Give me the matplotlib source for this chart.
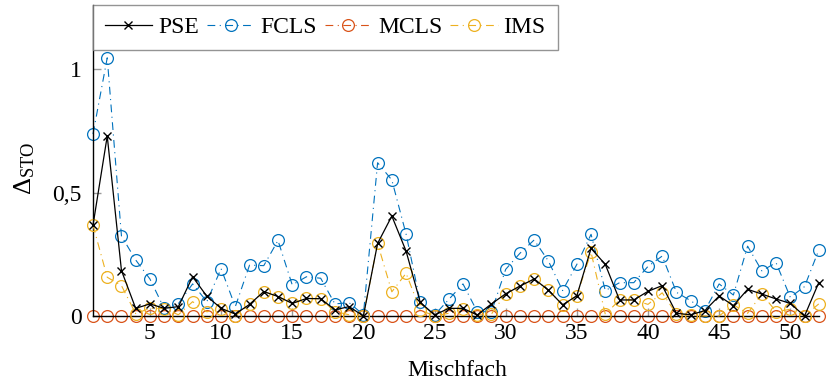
import matplotlib
matplotlib.use("Agg")
import matplotlib.pyplot as plt
from matplotlib.ticker import FuncFormatter

plt.rcParams["font.family"] = ["Liberation Serif", "DejaVu Serif"]
plt.rcParams["mathtext.fontset"] = "custom"
plt.rcParams["mathtext.rm"] = "Liberation Serif"
plt.rcParams["mathtext.it"] = "Liberation Serif:italic"

# Mischfach index 1..52
mischfach = list(range(1, 53))

pse = [0.368, 0.729, 0.184, 0.031, 0.049, 0.031, 0.038, 0.159, 0.080, 0.031,
       0.008, 0.047, 0.099, 0.079, 0.051, 0.071, 0.070, 0.025, 0.038, 0.000,
       0.294, 0.405, 0.263, 0.055, 0.004, 0.031, 0.031, 0.004, 0.049, 0.090,
       0.121, 0.150, 0.105, 0.045, 0.082, 0.274, 0.209, 0.065, 0.065, 0.100,
       0.123, 0.011, 0.005, 0.022, 0.081, 0.042, 0.108, 0.089, 0.069, 0.051,
       0.000, 0.135]

fcls = [0.737, 1.046, 0.324, 0.227, 0.150, 0.031, 0.050, 0.130, 0.058, 0.192,
        0.038, 0.206, 0.204, 0.306, 0.126, 0.159, 0.153, 0.049, 0.054, 0.005,
        0.621, 0.551, 0.332, 0.055, 0.004, 0.067, 0.130, 0.018, 0.017, 0.189,
        0.254, 0.308, 0.223, 0.103, 0.209, 0.331, 0.103, 0.135, 0.135, 0.201,
        0.243, 0.096, 0.062, 0.022, 0.130, 0.085, 0.283, 0.183, 0.216, 0.076,
        0.119, 0.267]

mcls = [0.0] * 52

ims = [0.368, 0.157, 0.123, 0.010, 0.031, 0.030, 0.005, 0.058, 0.017, 0.030,
       0.000, 0.047, 0.099, 0.079, 0.051, 0.071, 0.070, 0.018, 0.005, 0.000,
       0.294, 0.098, 0.173, 0.024, 0.000, 0.011, 0.030, 0.004, 0.008, 0.090,
       0.121, 0.150, 0.105, 0.045, 0.082, 0.258, 0.007, 0.065, 0.065, 0.047,
       0.094, 0.008, 0.004, 0.000, 0.000, 0.045, 0.011, 0.089, 0.018, 0.027,
       0.000, 0.049]

x_ticks = [5, 10, 15, 20, 25, 30, 35, 40, 45, 50]
y_ticks = [0, 0.5, 1]

c_fcls = "#0072BD"
c_mcls = "#D95319"
c_ims = "#EDB120"

W, H = 827, 384
fig = plt.figure(figsize=(W / 100, H / 100), dpi=100)
left, right, bottom, top = 93, 818.75, 316, 5
ax = fig.add_axes([left / W, (H - bottom) / H, (right - left) / W, (bottom - top) / H])

dashdot = (0, (7, 4, 1, 4))
lw = 0.8
ms = 8.5

ax.plot(mischfach, fcls, color=c_fcls, lw=lw, linestyle=dashdot, marker="o",
        ms=ms, mfc="none", mec=c_fcls, mew=0.9, clip_on=False, zorder=3, label="FCLS")
ax.plot(mischfach, mcls, color=c_mcls, lw=lw, linestyle=dashdot, marker="o",
        ms=ms, mfc="none", mec=c_mcls, mew=0.9, clip_on=False, zorder=3, label="MCLS")
ax.plot(mischfach, ims, color=c_ims, lw=lw, linestyle=dashdot, marker="o",
        ms=ms, mfc="none", mec=c_ims, mew=0.9, clip_on=False, zorder=4, label="IMS")
ax.plot(mischfach, pse, color="black", lw=0.9, linestyle="-", marker="x",
        ms=5.5, mew=1.0, clip_on=False, zorder=5, label="PSE")

ax.set_xlim(1, 52)
ax.set_ylim(0, 1.26)

for s in ["top", "right"]:
    ax.spines[s].set_visible(False)
ax.spines["left"].set_linewidth(1.0)
ax.spines["bottom"].set_linewidth(1.0)
ax.spines["bottom"].set_zorder(3.5)
ax.spines["left"].set_zorder(3.5)

ax.set_xticks(x_ticks)
ax.set_yticks(y_ticks)
ax.yaxis.set_major_formatter(FuncFormatter(
    lambda v, p: ("%g" % v).replace(".", ",")))
ax.tick_params(axis="both", direction="in", length=5.5, width=1.0,
               color="#9a9a9a", labelsize=17)
ax.tick_params(axis="x", pad=5)
ax.tick_params(axis="y", pad=8)

fig.text(457 / W, 1 - 370 / H, "Mischfach", ha="center", va="center", fontsize=17)
fig.text(25 / W, 1 - 168 / H, r"$\Delta_{\mathrm{STO}}$", ha="center", va="center",
         rotation=90, fontsize=19)

handles, labels = ax.get_legend_handles_labels()
order = [3, 0, 1, 2]
leg = ax.legend([handles[i] for i in order], [labels[i] for i in order],
                loc="upper left", bbox_to_anchor=(0, 1), borderaxespad=0,
                ncol=4, fontsize=17, frameon=True, fancybox=False,
                handlelength=2.0, handletextpad=0.25, columnspacing=0.35,
                borderpad=0.5)
leg.get_frame().set_edgecolor("#7a7a7a")
leg.get_frame().set_linewidth(1.0)
leg.set_zorder(10)

fig.savefig("out.png", dpi=100)
